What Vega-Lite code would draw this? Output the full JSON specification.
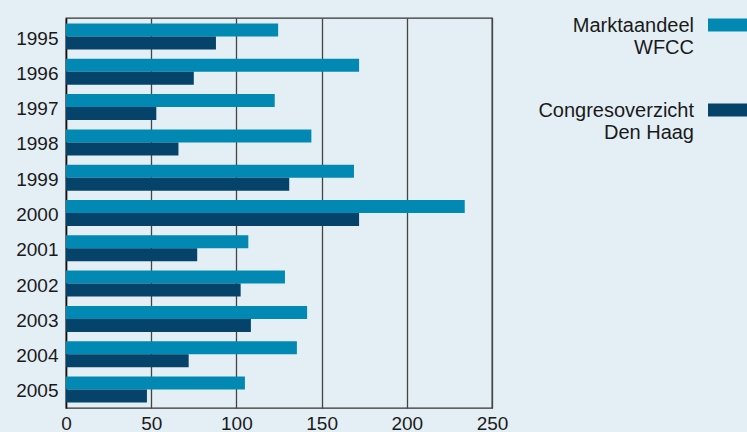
{
  "$schema": "https://vega.github.io/schema/vega-lite/v6.json",
  "background": "#e4eff5",
  "padding": {"left": 15, "top": 16, "right": 0, "bottom": 0},
  "config": {
    "font": "Liberation Sans",
    "view": {"stroke": "#333333", "strokeWidth": 1.3},
    "axis": {"labelFont": "Liberation Sans", "labelFontSize": 19, "labelColor": "#1a1a1a"},
    "concat": {"spacing": 9}
  },
  "bounds": "flush",
  "hconcat": [
    {
      "width": 426,
      "height": 390,
      "data": {"values": [
        {"year": "1995", "series": "Marktaandeel WFCC", "value": 124.5},
        {"year": "1995", "series": "Congresoverzicht Den Haag", "value": 88},
        {"year": "1996", "series": "Marktaandeel WFCC", "value": 172},
        {"year": "1996", "series": "Congresoverzicht Den Haag", "value": 75},
        {"year": "1997", "series": "Marktaandeel WFCC", "value": 122.5},
        {"year": "1997", "series": "Congresoverzicht Den Haag", "value": 53},
        {"year": "1998", "series": "Marktaandeel WFCC", "value": 144},
        {"year": "1998", "series": "Congresoverzicht Den Haag", "value": 66},
        {"year": "1999", "series": "Marktaandeel WFCC", "value": 169},
        {"year": "1999", "series": "Congresoverzicht Den Haag", "value": 131},
        {"year": "2000", "series": "Marktaandeel WFCC", "value": 234},
        {"year": "2000", "series": "Congresoverzicht Den Haag", "value": 172},
        {"year": "2001", "series": "Marktaandeel WFCC", "value": 107},
        {"year": "2001", "series": "Congresoverzicht Den Haag", "value": 77},
        {"year": "2002", "series": "Marktaandeel WFCC", "value": 128.5},
        {"year": "2002", "series": "Congresoverzicht Den Haag", "value": 102.5},
        {"year": "2003", "series": "Marktaandeel WFCC", "value": 141.5},
        {"year": "2003", "series": "Congresoverzicht Den Haag", "value": 108.5},
        {"year": "2004", "series": "Marktaandeel WFCC", "value": 135.5},
        {"year": "2004", "series": "Congresoverzicht Den Haag", "value": 72},
        {"year": "2005", "series": "Marktaandeel WFCC", "value": 105},
        {"year": "2005", "series": "Congresoverzicht Den Haag", "value": 47.5}
      ]},
      "mark": {"type": "bar"},
      "encoding": {
        "y": {
          "field": "year", "type": "nominal", "title": null,
          "scale": {"paddingInner": 0.263, "paddingOuter": 0.156},
          "axis": {"ticks": false, "labelPadding": 8, "domainColor": "#111111", "domainWidth": 1.5, "labelOffset": 2}
        },
        "yOffset": {"field": "series", "sort": ["Marktaandeel WFCC", "Congresoverzicht Den Haag"]},
        "x": {
          "field": "value", "type": "quantitative", "title": null,
          "scale": {"domain": [0, 250], "nice": false},
          "axis": {"values": [0, 50, 100, 150, 200, 250], "ticks": false, "domain": false, "grid": true, "gridColor": "#444444", "gridWidth": 1.3, "labelPadding": 6, "labelFlush": false}
        },
        "color": {
          "field": "series", "type": "nominal",
          "scale": {"domain": ["Marktaandeel WFCC", "Congresoverzicht Den Haag"], "range": ["#0189b3", "#05436b"]},
          "legend": null
        }
      }
    },
    {
      "width": 250,
      "height": 99,
      "view": {"stroke": null},
      "data": {"values": [
        {"series": "Marktaandeel WFCC", "label": "Marktaandeel\nWFCC"},
        {"series": "Congresoverzicht Den Haag", "label": "Congresoverzicht\nDen Haag"}
      ]},
      "encoding": {
        "y": {
          "field": "series", "type": "nominal", "title": null,
          "sort": ["Marktaandeel WFCC", "Congresoverzicht Den Haag"],
          "scale": {"paddingInner": 0.847, "paddingOuter": 0.006},
          "axis": null
        }
      },
      "layer": [
        {
          "mark": {"type": "bar"},
          "encoding": {
            "x": {"datum": 0.828, "type": "quantitative", "scale": {"domain": [0, 1], "nice": false}, "axis": null},
            "x2": {"datum": 1.0},
            "color": {"field": "series", "type": "nominal", "legend": null}
          }
        },
        {
          "mark": {"type": "text", "align": "right", "baseline": "alphabetic", "dy": 7, "fontSize": 20, "lineHeight": 22, "lineBreak": "\n", "color": "#1a1a1a", "font": "Liberation Sans"},
          "encoding": {
            "x": {"datum": 0.772, "type": "quantitative"},
            "text": {"field": "label"}
          }
        }
      ]
    }
  ]
}
